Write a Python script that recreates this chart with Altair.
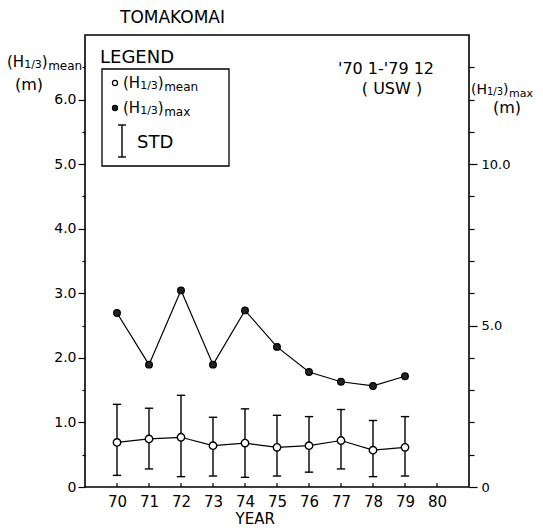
import altair as alt
import pandas as pd

# ---------------- data ----------------
years = [70, 71, 72, 73, 74, 75, 76, 77, 78, 79]
mean_h = [0.69, 0.745, 0.77, 0.64, 0.68, 0.615, 0.64, 0.72, 0.57, 0.615]   # (H1/3)mean, m (left axis)
std_hi = [1.28, 1.22, 1.42, 1.08, 1.21, 1.11, 1.09, 1.20, 1.03, 1.09]     # top of STD bar
std_lo = [0.18, 0.28, 0.16, 0.17, 0.15, 0.17, 0.23, 0.28, 0.16, 0.17]     # bottom of STD bar
max_h = [5.39, 3.79, 6.09, 3.79, 5.47, 4.34, 3.56, 3.26, 3.13, 3.43]      # (H1/3)max, m (right axis)

year_ticks = list(range(70, 81))
left_major = [0, 1, 2, 3, 4, 5, 6]
left_minor = [0.5, 1.5, 2.5, 3.5, 4.5, 5.5, 6.5]
right_major = [0, 5, 10]
right_minor = [1, 2, 3, 4, 6, 7, 8, 9, 11, 12, 13]

title_text = "TOMAKOMAI"
period_text = "'70 1-'79 12"
dir_text = "( USW )"

# ---------------- styling / layout ----------------
FONT = "DejaVu Sans"
X_DOMAIN = [69, 81]
LEFT_DOMAIN = [0, 7]
RIGHT_DOMAIN = [0, 14]
W, H = 384, 452

df = pd.DataFrame({"year": years, "mean": mean_h, "hi": std_hi, "lo": std_lo, "mx": max_h})
df["x0"] = df["year"] - 0.13
df["x1"] = df["year"] + 0.13

xscale = alt.Scale(domain=X_DOMAIN, nice=False, zero=False)
lscale = alt.Scale(domain=LEFT_DOMAIN, nice=False, zero=False)
rscale = alt.Scale(domain=RIGHT_DOMAIN, nice=False, zero=False)

x_axis = alt.Axis(values=year_ticks, format="d", tickSize=0, labelPadding=7,
                  labelFontSize=15, labelFont=FONT, labelColor="black",
                  domain=False, grid=False, title=None, labelFlush=False)

left_axis = alt.Axis(orient="left", values=left_major,
                     labelExpr="datum.value == 0 ? '0' : format(datum.value, '.1f')",
                     tickSize=7, tickColor="black", tickWidth=1.2, labelPadding=2,
                     labelFontSize=14, labelFont=FONT, labelColor="black",
                     domain=False, grid=False, title=None)
left_minor_axis = alt.Axis(orient="left", values=left_minor, labels=False,
                           tickSize=3, tickColor="black", tickWidth=1.2,
                           domain=False, grid=False, title=None)
right_axis = alt.Axis(orient="right", values=right_major,
                      labelExpr="datum.value == 0 ? '0' : format(datum.value, '.1f')",
                      tickSize=8, tickColor="black", tickWidth=1.2, labelPadding=4,
                      labelFontSize=13, labelFont=FONT, labelColor="black",
                      domain=False, grid=False, title=None)
right_minor_axis = alt.Axis(orient="right", values=right_minor, labels=False,
                            tickSize=5, tickColor="black", tickWidth=1.2,
                            domain=False, grid=False, title=None)


def X(field, axis=None):
    return alt.X(f"{field}:Q", scale=xscale, axis=axis)


base = alt.Chart(df)

mean_line = base.mark_line(color="black", strokeWidth=1.2).encode(
    x=X("year", x_axis), y=alt.Y("mean:Q", scale=lscale, axis=left_axis))
err_rule = base.mark_rule(color="black", strokeWidth=1.4).encode(
    x=X("year"), y=alt.Y("lo:Q", scale=lscale, axis=None), y2="hi:Q")
cap_hi = base.mark_rule(color="black", strokeWidth=1.4).encode(
    x=X("x0"), x2="x1:Q", y=alt.Y("hi:Q", scale=lscale, axis=None))
cap_lo = base.mark_rule(color="black", strokeWidth=1.4).encode(
    x=X("x0"), x2="x1:Q", y=alt.Y("lo:Q", scale=lscale, axis=None))
mean_pts = base.mark_point(shape="circle", filled=True, fill="white", stroke="black",
                           strokeWidth=1.4, size=55, opacity=1).encode(
    x=X("year"), y=alt.Y("mean:Q", scale=lscale, axis=None))

max_line = base.mark_line(color="black", strokeWidth=1.2).encode(
    x=X("year"), y=alt.Y("mx:Q", scale=rscale, axis=right_axis))
max_pts = base.mark_point(shape="circle", filled=True, fill="#222222", stroke="black",
                          strokeWidth=1.2, size=45, opacity=1).encode(
    x=X("year"), y=alt.Y("mx:Q", scale=rscale, axis=None))

lminor = alt.Chart(pd.DataFrame({"v": left_minor})).mark_point(opacity=0).encode(
    y=alt.Y("v:Q", scale=lscale, axis=left_minor_axis))
rminor = alt.Chart(pd.DataFrame({"v": right_minor})).mark_point(opacity=0).encode(
    y=alt.Y("v:Q", scale=rscale, axis=right_minor_axis))

xticks_in = alt.Chart(pd.DataFrame({"t": year_ticks})).mark_rule(
    color="black", strokeWidth=1.2).encode(x=X("t"), y=alt.value(H - 4), y2=alt.value(H))


# ---------------- annotation text (pixel layout) ----------------
def h13(x0, yb, suffix, main=15, sub=11, suf=12):
    w_paren_h = 1.142 * main
    w_13 = 1.609 * sub
    w_close = 0.39 * main
    return [
        {"px": x0, "py": yb, "t": "(H", "fs": main},
        {"px": x0 + w_paren_h, "py": yb + 1, "t": "1/3", "fs": sub},
        {"px": x0 + w_paren_h + w_13, "py": yb, "t": ")", "fs": main},
        {"px": x0 + w_paren_h + w_13 + w_close + 0.5, "py": yb + 3, "t": suffix, "fs": suf},
    ]


left_rows = []
left_rows += h13(-78, 31.5, "mean")
left_rows += h13(38, 52.5, "mean")
left_rows += h13(38, 77.5, "max")
left_rows += h13(386, 59, "max", main=14, sub=10, suf=11)
left_rows += [{"px": 15, "py": 28, "t": "LEGEND", "fs": 18},
              {"px": 52, "py": 113, "t": "STD", "fs": 18},
              {"px": 150.5, "py": 489, "t": "YEAR", "fs": 15}]
left_txt = alt.Chart(pd.DataFrame(left_rows)).mark_text(
    align="left", baseline="alphabetic", font=FONT, color="black").encode(
    x=alt.X("px:Q", scale=None, axis=None), y=alt.Y("py:Q", scale=None, axis=None),
    text="t:N", size=alt.Size("fs:Q", scale=None, legend=None))

center_rows = [
    {"px": 87.5, "py": -17, "t": title_text, "fs": 17},
    {"px": 301, "py": 34, "t": period_text, "fs": 16},
    {"px": 307, "py": 54, "t": dir_text, "fs": 16},
    {"px": -56, "py": 50, "t": "(m)", "fs": 16},
    {"px": 422, "py": 73, "t": "(m)", "fs": 16},
]
center_txt = alt.Chart(pd.DataFrame(center_rows)).mark_text(
    align="center", baseline="middle", font=FONT, color="black").encode(
    x=alt.X("px:Q", scale=None, axis=None), y=alt.Y("py:Q", scale=None, axis=None),
    text="t:N", size=alt.Size("fs:Q", scale=None, legend=None))

# legend box and symbols
one = pd.DataFrame({"k": [0]})
leg_box = alt.Chart(one).mark_rect(fillOpacity=0, stroke="black", strokeWidth=1.3).encode(
    x=alt.value(17), x2=alt.value(144), y=alt.value(34), y2=alt.value(131))
leg_open = alt.Chart(one).mark_point(shape="circle", filled=True, fill="white", stroke="black",
                                     strokeWidth=1.2, size=26, opacity=1).encode(
    x=alt.value(30), y=alt.value(48))
leg_fill = alt.Chart(one).mark_point(shape="circle", filled=True, fill="#222222", stroke="black",
                                     strokeWidth=1.2, size=26, opacity=1).encode(
    x=alt.value(30), y=alt.value(73))
std_segs = pd.DataFrame({"x": [37, 33, 33], "x2": [37, 41, 41],
                         "y": [90, 90, 122], "y2": [122, 90, 122]})
leg_std = alt.Chart(std_segs).mark_rule(color="black", strokeWidth=1.4).encode(
    x=alt.X("x:Q", scale=None, axis=None), x2="x2:Q",
    y=alt.Y("y:Q", scale=None, axis=None), y2="y2:Q")

chart = alt.layer(
    mean_line, err_rule, cap_hi, cap_lo, mean_pts, max_line, max_pts,
    lminor, rminor, xticks_in, left_txt, center_txt, leg_box, leg_open, leg_fill, leg_std
).resolve_scale(x="independent", y="independent").properties(
    width=W, height=H,
    padding={"left": 77, "top": 27, "right": 66, "bottom": 43},
    autosize=alt.AutoSizeParams(type="none"),
    background="white",
).configure_view(stroke="black", strokeWidth=1.6)

chart.save("out.html", embed_options={"renderer": "svg", "actions": False})
